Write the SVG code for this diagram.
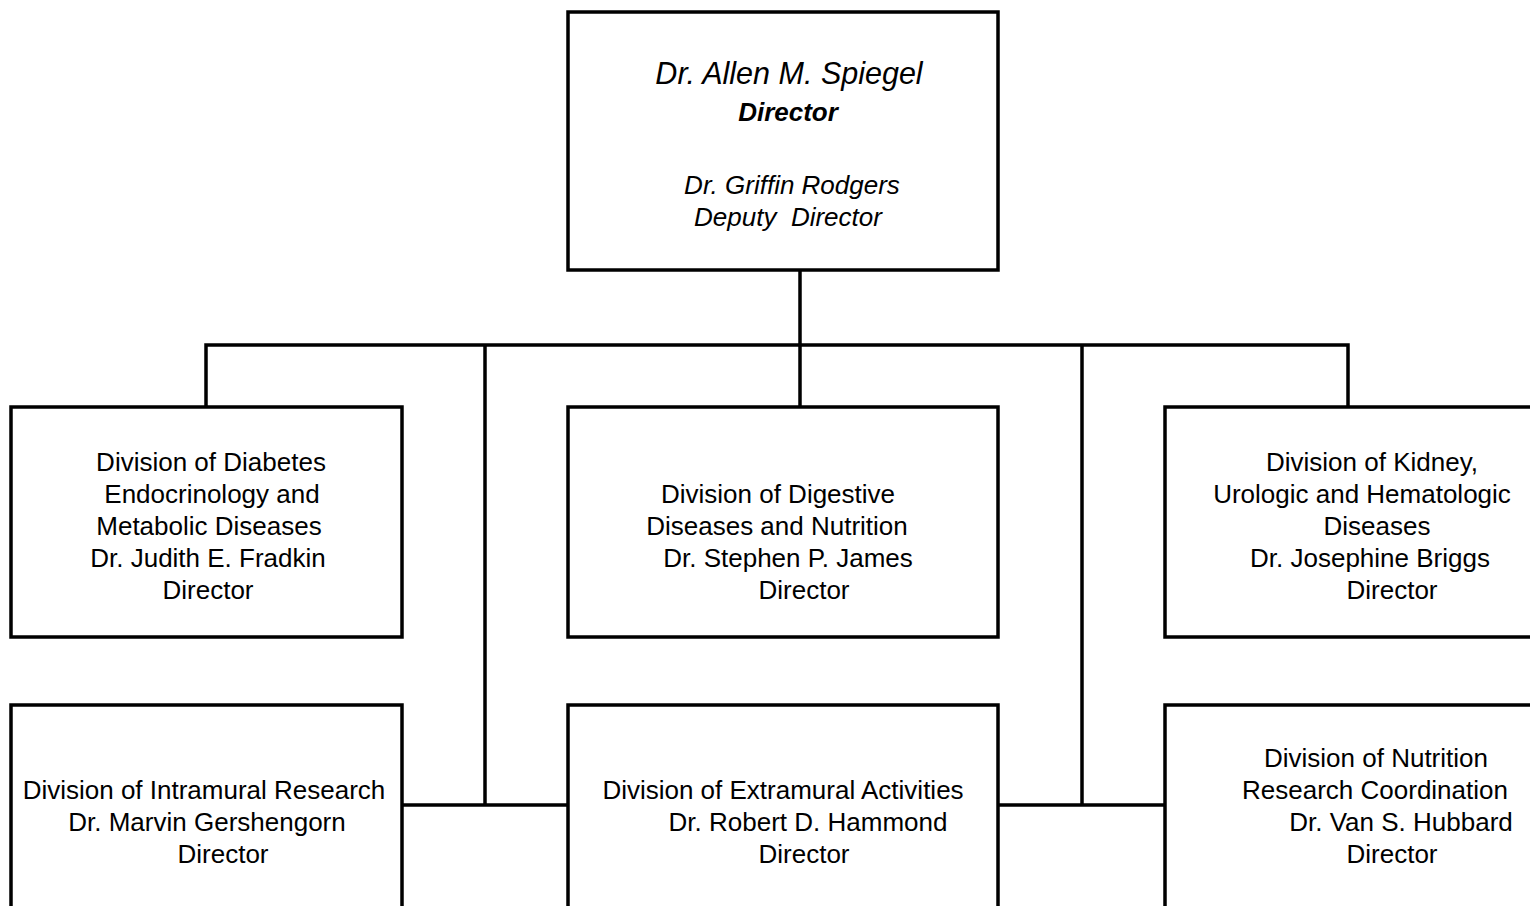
<svg xmlns="http://www.w3.org/2000/svg" width="1530" height="906" viewBox="0 0 1530 906">
<style>
.box{fill:#fff;stroke:#000;stroke-width:3.5}
.ln{fill:none;stroke:#000;stroke-width:3.5;stroke-linecap:square}
text{font-family:"Liberation Sans",Arial,sans-serif;font-size:26px;fill:#000;text-anchor:middle}
.it{font-style:italic}
.bi{font-style:italic;font-weight:bold}
</style>
<rect width="1530" height="906" fill="#fff"/>
<g id="connectors">
<path class="ln" d="M800 270V345M206 345H1348M206 345V407M800 345V407M1348 345V407M485 345V805M1082 345V805M402 805H568M998 805H1165"/>
</g>
<g id="director">
<rect class="box" x="568" y="12" width="430" height="258"/>
<text class="it" x="789" y="84" style="font-size:30.5px">Dr. Allen M. Spiegel</text>
<text class="bi" x="788" y="121">Director</text>
<text class="it" x="792" y="194">Dr. Griffin Rodgers</text>
<text class="it" x="788" y="226" xml:space="preserve">Deputy  Director</text>
</g>
<g id="diabetes">
<rect class="box" x="11" y="407" width="391" height="230"/>
<text x="211" y="471">Division of Diabetes</text>
<text x="212" y="503">Endocrinology and</text>
<text x="209" y="535">Metabolic Diseases</text>
<text x="208" y="567">Dr. Judith E. Fradkin</text>
<text x="208" y="599">Director</text>
</g>
<g id="digestive">
<rect class="box" x="568" y="407" width="430" height="230"/>
<text x="778" y="503">Division of Digestive</text>
<text x="777" y="535">Diseases and Nutrition</text>
<text x="788" y="567">Dr. Stephen P. James</text>
<text x="804" y="599">Director</text>
</g>
<g id="kidney">
<rect class="box" x="1165" y="407" width="380" height="230"/>
<text x="1372" y="471">Division of Kidney,</text>
<text x="1362" y="503">Urologic and Hematologic</text>
<text x="1377" y="535">Diseases</text>
<text x="1370" y="567">Dr. Josephine Briggs</text>
<text x="1392" y="599">Director</text>
</g>
<g id="intramural">
<rect class="box" x="11" y="705" width="391" height="230"/>
<text x="204" y="799">Division of Intramural Research</text>
<text x="207" y="831">Dr. Marvin Gershengorn</text>
<text x="223" y="863">Director</text>
</g>
<g id="extramural">
<rect class="box" x="568" y="705" width="430" height="230"/>
<text x="783" y="799">Division of Extramural Activities</text>
<text x="808" y="831">Dr. Robert D. Hammond</text>
<text x="804" y="863">Director</text>
</g>
<g id="nutrition">
<rect class="box" x="1165" y="705" width="380" height="230"/>
<text x="1376" y="767">Division of Nutrition</text>
<text x="1375" y="799">Research Coordination</text>
<text x="1401" y="831">Dr. Van S. Hubbard</text>
<text x="1392" y="863">Director</text>
</g>
</svg>
